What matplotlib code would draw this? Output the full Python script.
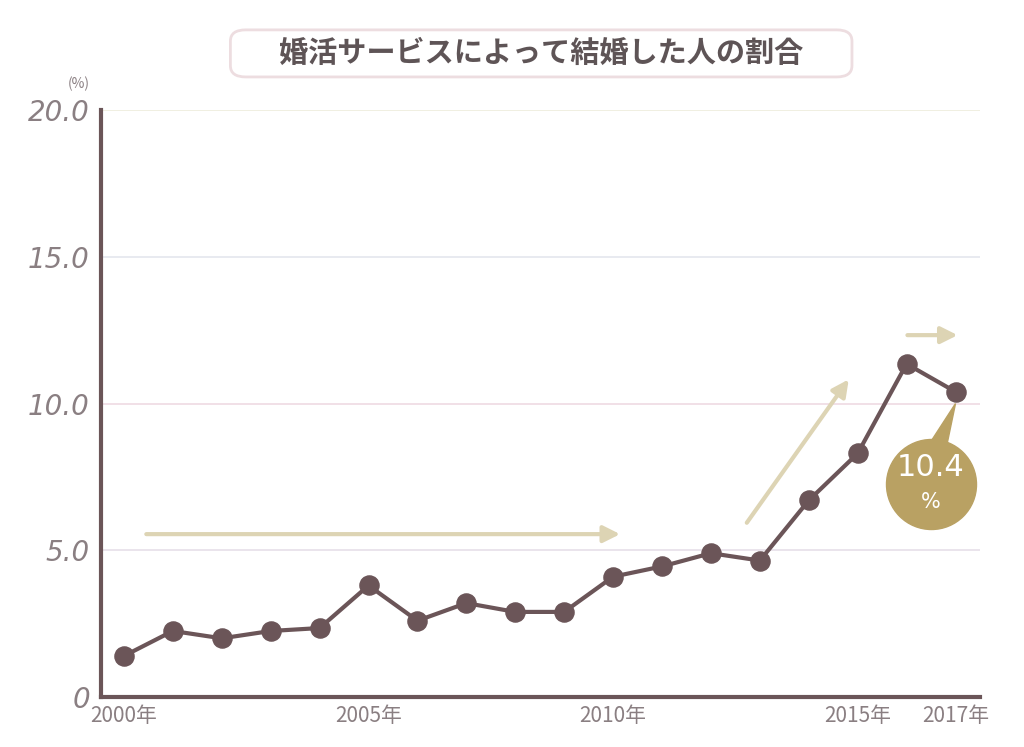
import matplotlib.pyplot as plt
from matplotlib.patches import FancyBboxPatch, Polygon

plt.rcParams["font.family"] = ["Noto Sans CJK JP", "DejaVu Sans"]

years = list(range(2000, 2018))
rates = [1.4, 2.25, 2.0, 2.25, 2.35, 3.8, 2.6, 3.2, 2.9, 2.9,
         4.1, 4.45, 4.9, 4.65, 6.7, 8.3, 11.35, 10.4]
yticks = [0, 5, 10, 15, 20]
ytickLabels = ["0", "5.0", "10.0", "15.0", "20.0"]
xticks = [2000, 2005, 2010, 2015, 2017]
xtickLabels = ["2000年", "2005年", "2010年", "2015年", "2017年"]
title = "婚活サービスによって結婚した人の割合"

LINE = "#6b5558"
GOLD = "#b9a163"
ARROW = "#ddd4b4"
TXT = "#8a7f82"

fig = plt.figure(figsize=(10.24, 7.47), dpi=100)
ax = fig.add_axes([0.0986, 0.0669, 0.8584, 0.7858])
ax.set_xlim(1999.53, 2017.5)
ax.set_ylim(0, 20)

gridColors = ["#e8e2ea", "#f0dde5", "#e6e8ef", "#efeede"]
for y, c in zip(yticks[1:], gridColors):
    ax.axhline(y, color=c, lw=1.3, zorder=0)

ax.plot(years, rates, color=LINE, lw=3, zorder=3)
ax.scatter(years, rates, s=190, color=LINE, zorder=4)

for s in ["top", "right"]:
    ax.spines[s].set_visible(False)
ax.spines["left"].set_color(LINE)
ax.spines["left"].set_linewidth(3)
ax.spines["bottom"].set_color(LINE)
ax.spines["bottom"].set_linewidth(3)
ax.tick_params(length=0, pad=8)
ax.set_yticks(yticks)
ax.set_yticklabels(ytickLabels, fontsize=20, color=TXT, style="italic", family="DejaVu Sans")
ax.set_xticks(xticks)
ax.set_xticklabels(xtickLabels, fontsize=15, color=TXT, style="italic")
ax.tick_params(axis="x", pad=6)
ax.text(1999.3, 20.75, "(%)", fontsize=10, color=TXT, style="italic", ha="right")

# trend arrows
arrows = [((2000.4, 5.55), (2010.2, 5.55)),
          ((2012.7, 5.86), (2014.85, 10.9)),
          ((2015.96, 12.33), (2017.1, 12.33))]
for start, end in arrows:
    ax.annotate("", xy=end, xytext=start,
                arrowprops=dict(arrowstyle="-|>,head_length=1.0,head_width=0.5",
                                color=ARROW, lw=3), zorder=2)

# callout bubble
cx, cy = 2016.5, 7.26
ax.add_patch(Polygon([(2016.3, 8.2), (2016.8, 8.4), (2017.0, 10.0)],
                     closed=True, color=GOLD, zorder=5))
ax.scatter([cx], [cy], s=4200, color=GOLD, zorder=5)
ax.text(cx, cy + 0.55, "10.4", fontsize=22, color="white", ha="center",
        va="center", zorder=6, family="DejaVu Sans")
ax.text(cx, cy - 0.6, "%", fontsize=15, color="white", ha="center",
        va="center", zorder=6, family="DejaVu Sans")

# title box
box = FancyBboxPatch((0.225, 0.897), 0.607, 0.063,
                     boxstyle="round,pad=0,rounding_size=0.015",
                     transform=fig.transFigure, facecolor="white",
                     edgecolor="#eddde0", lw=2)
fig.patches.append(box)
fig.text(0.528, 0.929, title, fontsize=21, fontweight="bold", color="#5e5456",
         ha="center", va="center")

fig.savefig("out.png", dpi=100)
